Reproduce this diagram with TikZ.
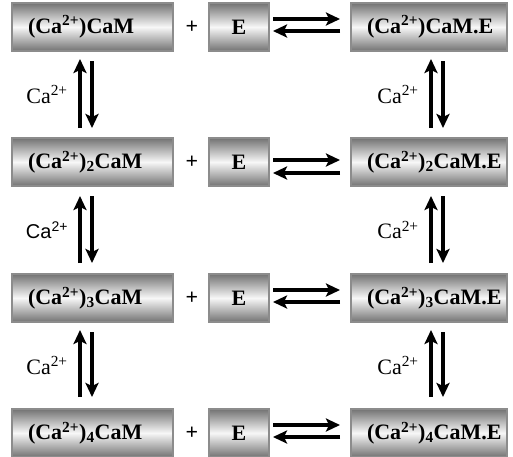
\documentclass[tikz,border=0pt]{standalone}
\usepackage{fontspec}
\setmainfont{Liberation Serif}
\newfontfamily\arialfont{Liberation Sans}
\usetikzlibrary{arrows.meta}
\definecolor{boxdark}{gray}{0.45}
\definecolor{boxlight}{gray}{0.97}
\definecolor{boxedge}{gray}{0.55}
\begin{document}
\begin{tikzpicture}[x=1pt,y=-1pt,
  box/.style={draw=boxedge, line width=2.5pt, top color=boxdark, bottom color=boxdark,
    middle color=boxlight, minimum height=48pt, inner ysep=0pt, outer sep=0pt,
    font=\fontsize{22}{24}\selectfont\bfseries},
  species/.style={box, inner xsep=16pt, text width=#1, align=left},
  enz/.style={box, minimum width=60pt, inner xsep=0pt},
  arr/.style={line width=3.2pt, -{Stealth[length=14pt,width=13pt,inset=3pt]}},
  lbl/.style={font=\fontsize{22}{24}\selectfont},
  plus/.style={font=\fontsize{22}{24}\selectfont\bfseries}
]
\useasboundingbox (0,0) rectangle (513,456);

% free calmodulin species (left column)
\node[species=129pt] (L1) at (92.5,27)  {(Ca\textsuperscript{2+})CaM};
\node[species=129pt] (L2) at (92.5,162) {(Ca\textsuperscript{2+})\textsubscript{2}CaM};
\node[species=129pt] (L3) at (92.5,298) {(Ca\textsuperscript{2+})\textsubscript{3}CaM};
\node[species=129pt] (L4) at (92.5,433) {(Ca\textsuperscript{2+})\textsubscript{4}CaM};

% plus signs
\node[plus] (P1) at (192,27)  {+};
\node[plus] (P2) at (192,162) {+};
\node[plus] (P3) at (192,298) {+};
\node[plus] (P4) at (192,433) {+};

% enzyme
\node[enz] (E1) at (239,27)  {E};
\node[enz] (E2) at (239,162) {E};
\node[enz] (E3) at (239,298) {E};
\node[enz] (E4) at (239,433) {E};

% enzyme-bound complexes (right column)
\node[species=124pt] (R1) at (429,27)  {(Ca\textsuperscript{2+})CaM.E};
\node[species=124pt] (R2) at (429,162) {(Ca\textsuperscript{2+})\textsubscript{2}CaM.E};
\node[species=124pt] (R3) at (429,298) {(Ca\textsuperscript{2+})\textsubscript{3}CaM.E};
\node[species=124pt] (R4) at (429,433) {(Ca\textsuperscript{2+})\textsubscript{4}CaM.E};

% binding equilibria E <-> complex
\draw[arr] ([xshift=4pt,yshift=8pt]E1.east) -- ([xshift=-11pt,yshift=8pt]R1.west);
\draw[arr] ([xshift=-11pt,yshift=-4pt]R1.west) -- ([xshift=4pt,yshift=-4pt]E1.east);
\draw[arr] ([xshift=4pt,yshift=2pt]E2.east) -- ([xshift=-11pt,yshift=2pt]R2.west);
\draw[arr] ([xshift=-11pt,yshift=-11pt]R2.west) -- ([xshift=4pt,yshift=-11pt]E2.east);
\draw[arr] ([xshift=4pt,yshift=8pt]E3.east) -- ([xshift=-11pt,yshift=8pt]R3.west);
\draw[arr] ([xshift=-11pt,yshift=-4pt]R3.west) -- ([xshift=4pt,yshift=-4pt]E3.east);
\draw[arr] ([xshift=4pt,yshift=8pt]E4.east) -- ([xshift=-11pt,yshift=8pt]R4.west);
\draw[arr] ([xshift=-11pt,yshift=-4pt]R4.west) -- ([xshift=4pt,yshift=-4pt]E4.east);

% calcium binding steps, left column
\draw[arr] ([xshift=-12.5pt,yshift=10pt]L2.north) -- ([xshift=-12.5pt,yshift=-8pt]L1.south);
\draw[arr] ([xshift=-0.5pt,yshift=-10pt]L1.south) -- ([xshift=-0.5pt,yshift=10pt]L2.north);
\draw[arr] ([xshift=-12.5pt,yshift=11pt]L3.north) -- ([xshift=-12.5pt,yshift=-10pt]L2.south);
\draw[arr] ([xshift=-0.5pt,yshift=-10pt]L2.south) -- ([xshift=-0.5pt,yshift=11pt]L3.north);
\draw[arr] ([xshift=-12.5pt,yshift=12pt]L4.north) -- ([xshift=-12.5pt,yshift=-8pt]L3.south);
\draw[arr] ([xshift=-0.5pt,yshift=-10pt]L3.south) -- ([xshift=-0.5pt,yshift=12pt]L4.north);

% calcium binding steps, right column
\draw[arr] ([xshift=2pt,yshift=10pt]R2.north) -- ([xshift=2pt,yshift=-8pt]R1.south);
\draw[arr] ([xshift=14pt,yshift=-10pt]R1.south) -- ([xshift=14pt,yshift=10pt]R2.north);
\draw[arr] ([xshift=2pt,yshift=11pt]R3.north) -- ([xshift=2pt,yshift=-10pt]R2.south);
\draw[arr] ([xshift=14pt,yshift=-10pt]R2.south) -- ([xshift=14pt,yshift=11pt]R3.north);
\draw[arr] ([xshift=2pt,yshift=12pt]R4.north) -- ([xshift=2pt,yshift=-8pt]R3.south);
\draw[arr] ([xshift=14pt,yshift=-10pt]R3.south) -- ([xshift=14pt,yshift=12pt]R4.north);

% Ca2+ labels
\node[lbl] (c1) at (47,94.5)   {Ca\textsuperscript{2+}};
\node[lbl,font=\fontsize{20}{22}\selectfont\arialfont] (c2) at (47,230) {Ca\textsuperscript{2+}};
\node[lbl] (c3) at (47,365.5)  {Ca\textsuperscript{2+}};
\node[lbl] (d1) at (398,94.5)  {Ca\textsuperscript{2+}};
\node[lbl] (d2) at (398,230)   {Ca\textsuperscript{2+}};
\node[lbl] (d3) at (398,365.5) {Ca\textsuperscript{2+}};
\end{tikzpicture}
\end{document}
